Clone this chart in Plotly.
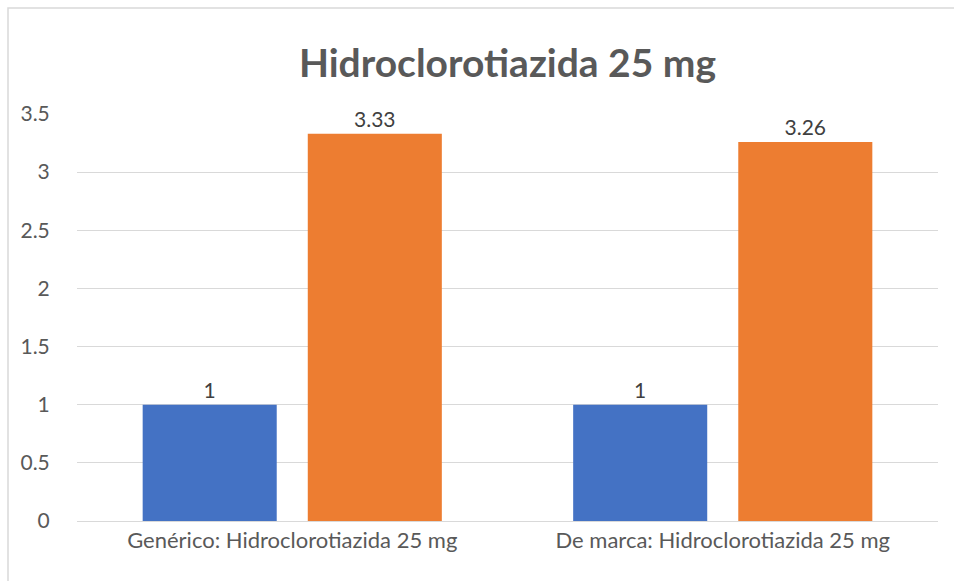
import plotly.graph_objects as go

categories = ["Genérico: Hidroclorotiazida 25 mg", "De marca: Hidroclorotiazida 25 mg"]
serie_1 = [1, 1]
serie_2 = [3.33, 3.26]
y_ticks = [0, 0.5, 1, 1.5, 2, 2.5, 3, 3.5]

gris = "#595959"
fuente = "Lato"

fig = go.Figure()
fig.add_trace(go.Bar(x=categories, y=serie_1, name="Serie 1",
                     marker=dict(color="#4472C4", line=dict(width=0)),
                     text=serie_1, textposition="outside",
                     textfont=dict(size=21, color="#404040", family=fuente), cliponaxis=False))
fig.add_trace(go.Bar(x=categories, y=serie_2, name="Serie 2",
                     marker=dict(color="#ED7D31", line=dict(width=0)),
                     text=serie_2, textposition="outside",
                     textfont=dict(size=21, color="#404040", family=fuente), cliponaxis=False))

fig.update_layout(
    width=954, height=581,
    margin=dict(l=77, r=16, t=114, b=60),
    paper_bgcolor="white", plot_bgcolor="white",
    font=dict(family=fuente, color=gris),
    title=dict(text="<b>Hidroclorotiazida 25 mg</b>", x=0.5, xref="paper", xanchor="center",
               y=1 - 63 / 581, yref="container", yanchor="middle",
               font=dict(size=39, color=gris, family=fuente)),
    showlegend=False,
    barmode="group", bargap=0.233, bargroupgap=0.188,
    xaxis=dict(showgrid=False, showline=True, linecolor="#D9D9D9", linewidth=1,
               tickfont=dict(size=22, color=gris), ticks=""),
    yaxis=dict(range=[0, 3.5], tickvals=y_ticks, showgrid=True, gridcolor="#D9D9D9",
               gridwidth=1, zeroline=False, showline=False,
               ticks="outside", ticklen=22, tickcolor="white",
               tickfont=dict(size=21, color=gris)),
    uniformtext=dict(minsize=21),
)
fig.add_shape(type="rect", xref="paper", yref="paper",
              x0=(8 - 77) / 861, x1=1.2, y0=-0.4, y1=(521 - 8) / 407,
              line=dict(color="#D9D9D9", width=1.5), layer="below")

fig.write_html("out.html", config={"displayModeBar": False},
               post_script="document.body.style.margin='0';")
